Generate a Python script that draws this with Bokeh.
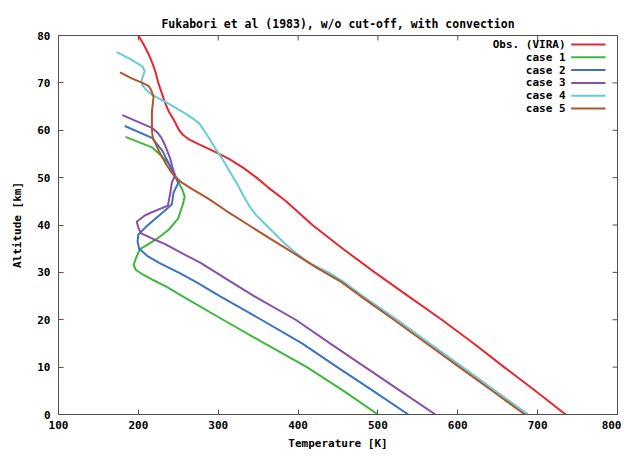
from bokeh.plotting import figure
from bokeh.models import Range1d, Label, FixedTicker
from bokeh.embed import file_html
from bokeh.resources import INLINE

# ---------------- data ----------------
title_text = "Fukabori et al (1983), w/o cut-off, with convection"
series_names = ["Obs. (VIRA)", "case 1", "case 2", "case 3", "case 4", "case 5"]

obs_alt = [0, 5, 10, 15, 20, 25, 30, 35, 40, 45, 48, 50, 52, 54, 55, 56, 57, 58, 59, 60,
           62, 64, 66, 68, 70, 72, 74, 76, 78, 80]
obs_temp = [735, 697, 658, 620, 580, 538, 496, 456, 418, 385, 362, 348, 332, 313, 301, 289, 276, 264, 256, 251,
            245, 238, 233, 229, 225, 222, 218, 213, 207, 200]

case1_alt = [0, 5, 10, 15, 20, 25, 27, 28.5, 29.5, 30.5, 31.5, 33, 34.9, 36, 37.3, 39, 41.4, 43, 44.5, 46,
             47.5, 49, 50.2, 53, 54.7, 56.4, 58.6]
case1_temp = [500, 457, 411, 358, 306, 255, 235, 217, 206, 197, 194, 197, 202, 213, 225, 238, 250, 253, 256, 258,
              255, 250, 246, 238, 228, 217, 184]

case2_alt = [0, 5, 10, 15, 20, 25, 28, 30, 32, 33.5, 35, 36.5, 38, 39.5, 41, 43, 44.4, 46.8, 48.9, 50.5,
             52.3, 55.7, 58.4, 60.9]
case2_temp = [538, 494, 449, 405, 354, 302, 272, 250, 226, 211, 201, 199, 200, 209, 219, 233, 242, 244, 250, 246,
              240, 230, 217, 183]

case3_alt = [0, 5, 10, 15, 20, 25, 28, 30, 32, 34, 36, 37, 38.3, 39.5, 40.7, 42, 42.7, 44.1, 46.8, 49,
             50.5, 52, 54, 55.7, 57, 58.4, 59.5, 60.5, 63.2]
case3_temp = [572, 528, 484, 440, 397, 345, 316, 297, 278, 255, 233, 219, 203, 200, 198, 208, 217, 237, 240, 242,
              246, 243, 240, 236, 233, 229, 224, 217, 180]

case4_alt = [0, 5, 10, 15, 20, 25, 28, 30, 32, 34, 36, 38, 40, 42, 44, 46, 48, 50, 52, 54,
             56, 58, 60, 61.5, 62.5, 63.5, 64.5, 65.5, 66.5, 67.5, 68.5, 69.5, 70.5, 71.5, 72.5, 73.5, 75, 76.5]
case4_temp = [688, 647, 606, 565, 524, 481, 457, 438, 414, 398, 384, 372, 360, 348, 339, 332, 326, 319, 312, 305,
              297, 290, 282, 276, 268, 259, 249, 239, 228, 217, 210, 205, 204, 206, 208, 205, 190, 173]

case5_alt = [0, 5, 10, 15, 20, 25, 28, 31, 34, 37, 40, 43, 45.5, 47.5, 49, 50, 51, 52.5, 54, 55.5,
             57, 58.5, 60, 62, 64, 65.5, 67, 68.5, 69.3, 70, 71, 72.2]
case5_temp = [684, 643, 602, 561, 520, 478, 454, 423, 395, 366, 338, 310, 288, 268, 254, 247, 242, 236, 231, 226,
              222, 218, 217, 217, 217, 218, 219, 216, 213, 205, 191, 177]

x_ticks = [100, 200, 300, 400, 500, 600, 700, 800]
y_ticks = [0, 10, 20, 30, 40, 50, 60, 70, 80]

# ---------------- styles ----------------
colors = ["#e8272f", "#3db83d", "#3a73c4", "#8a4fae", "#66ccd9", "#b5532a"]
FONT = "DejaVu Sans Mono"
FS = "11px"
BORDER = "#505050"
X0, X1, Y0, Y1 = 100, 800, 0, 80

W, H = 621, 452
ML, MR, MT, MB = 58, 4, 35, 36
frame_w = W - ML - MR
frame_h = H - MT - MB
TICK_PX = 5
tick_dx = TICK_PX * (X1 - X0) / frame_w
tick_dy = TICK_PX * (Y1 - Y0) / frame_h

p = figure(width=W, height=H, output_backend="svg", toolbar_location=None,
           x_range=Range1d(X0, X1), y_range=Range1d(Y0, Y1),
           min_border_left=ML, min_border_right=MR, min_border_top=MT, min_border_bottom=MB,
           background_fill_color="white", border_fill_color="white")

p.title.text = title_text
p.title.align = "center"
p.title.text_font = FONT
p.title.text_font_size = "11.5px"
p.title.text_font_style = "bold"
p.title.text_color = "black"
p.title.standoff = 10

p.grid.visible = False
p.outline_line_color = BORDER
p.outline_line_width = 1

for ax in (p.xaxis[0], p.yaxis[0]):
    ax.axis_line_color = BORDER
    ax.major_tick_line_color = BORDER
    ax.major_tick_in = TICK_PX
    ax.major_tick_out = 0
    ax.minor_tick_line_color = None
    ax.major_label_text_font = FONT
    ax.major_label_text_font_size = FS
    ax.major_label_text_font_style = "bold"
    ax.major_label_text_color = "black"
    ax.axis_label_text_font = FONT
    ax.axis_label_text_font_size = FS
    ax.axis_label_text_font_style = "bold"
    ax.axis_label_text_color = "black"

p.xaxis[0].ticker = FixedTicker(ticks=x_ticks)
p.yaxis[0].ticker = FixedTicker(ticks=y_ticks)
p.xaxis[0].axis_label = "Temperature [K]"
p.yaxis[0].axis_label = "Altitude [km]"
p.xaxis[0].major_label_standoff = 6
p.yaxis[0].major_label_standoff = 8
p.xaxis[0].axis_label_standoff = 5
p.yaxis[0].axis_label_standoff = 10

# mirrored (inward) ticks on the top and right borders, derived from the tick lists
p.segment(x0=x_ticks, y0=[Y1] * len(x_ticks), x1=x_ticks, y1=[Y1 - tick_dy] * len(x_ticks),
          line_color=BORDER, line_width=1)
p.segment(x0=[X1] * len(y_ticks), y0=y_ticks, x1=[X1 - tick_dx] * len(y_ticks), y1=y_ticks,
          line_color=BORDER, line_width=1)

all_alt = [obs_alt, case1_alt, case2_alt, case3_alt, case4_alt, case5_alt]
all_temp = [obs_temp, case1_temp, case2_temp, case3_temp, case4_temp, case5_temp]

for t, z, c in zip(all_temp, all_alt, colors):
    p.line(t, z, line_color=c, line_width=2)

# key (gnuplot style: text right-aligned, sample to the right)
LEG_TEXT_X = 735
LEG_X0, LEG_X1 = 742, 785
LEG_Y0 = Y1 - 9 * (Y1 - Y0) / frame_h
LEG_DY = 12.9 * (Y1 - Y0) / frame_h
for i, (name, c) in enumerate(zip(series_names, colors)):
    yy = LEG_Y0 - i * LEG_DY
    p.add_layout(Label(x=LEG_TEXT_X, y=yy, text=name, text_align="right", text_baseline="middle",
                       text_font=FONT, text_font_size=FS, text_font_style="bold", text_color="black"))
    p.segment(x0=[LEG_X0], y0=[yy], x1=[LEG_X1], y1=[yy], line_color=c, line_width=2)

open("out.html", "w").write(file_html(p, INLINE))
